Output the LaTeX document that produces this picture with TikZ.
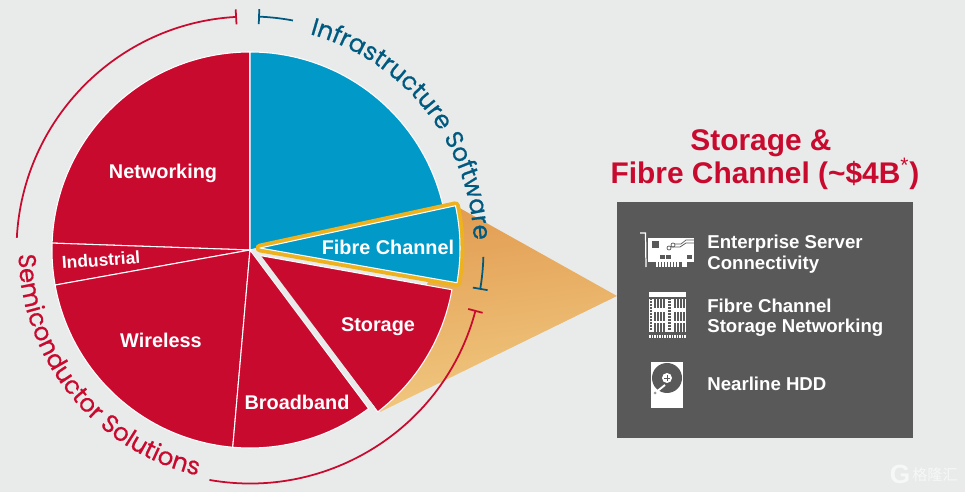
\documentclass[tikz,border=0pt]{standalone}
\usepackage{fontspec}
\setmainfont{Liberation Sans}
\newfontfamily\arcfont[FakeBold=0.5]{Poppins}
\newfontfamily\cjkfont{Noto Sans CJK SC}
\usepackage{tikz}
\usetikzlibrary{arrows.meta,decorations.text}

\definecolor{bgcol}{HTML}{E9EBEB}
\definecolor{piered}{HTML}{C90A2F}
\definecolor{pieblue}{HTML}{0099C8}
\definecolor{arcblue}{HTML}{005A80}
\definecolor{rimyellow}{HTML}{EDB21E}
\definecolor{boxgray}{HTML}{595959}
\definecolor{calltop}{HTML}{E29D52}
\definecolor{callbot}{HTML}{F1CA82}
\definecolor{markcol}{HTML}{F6F7F7}

\tikzset{
	slice/.style={fill=#1,draw=white,line width=0.6pt,line join=round},
	pielabel/.style={text=white,font=\bfseries\fontsize{11.3}{13}\selectfont,inner sep=0pt},
	boxlabel/.style={text=white,font=\bfseries\fontsize{10.6}{11.6}\selectfont,anchor=west,align=left,inner sep=0pt},
	titlelabel/.style={text=piered,font=\bfseries\fontsize{17}{20}\selectfont,inner sep=0pt},
	redarc/.style={draw=piered,line width=1pt,-{Bar[width=8.5pt,line width=1pt]}},
	bluearc/.style={draw=arcblue,line width=1pt,-{Bar[width=8.5pt,line width=1pt]}}
}
\def\pieR{3.96}
\def\arcR{4.67}

\begin{document}
\begin{tikzpicture}
\useasboundingbox (0,0) rectangle (19.3,9.84);
\fill[bgcol] (0,0) rectangle (19.3,9.84);
% callout behind the pie
\shade[top color=calltop,bottom color=callbot,shading angle=8] (9.12,5.72) -- (12.34,3.92) -- (7.6,1.6) -- cycle;
\begin{scope}[shift={(5,4.84)}]
	\foreach \a/\b in {90/178,178/190.2,190.2/265,265/306.8}
	{
		\draw[slice=piered] (0,0) -- (\a:\pieR) arc (\a:\b:\pieR) -- cycle;
	}
	\draw[slice=pieblue] (0,0) -- (90:\pieR) arc (90:12.8:\pieR) -- cycle;
	\draw[slice=piered,shift={(0.14,-0.1)}] (0,0) -- (-10.1:\pieR) arc (-10.1:-52.4:\pieR) -- cycle;
	% gap between the two red slices
	\draw[bgcol,line width=2.9pt] (0.07,0) -- (2.46,-3.18);
	% highlighted slice
	\draw[rimyellow,line width=5pt,line join=round,shift={(0.2,0.04)}] (0,0) -- (12.2:4) arc (12.2:-10:4) -- cycle;
	\draw[slice=pieblue,shift={(0.2,0.04)}] (0,0) -- (12.2:4) arc (12.2:-10:4) -- cycle;
	% brackets round the pie
	\draw[redarc] (177:\arcR) arc (177:93.2:\arcR);
	\draw[redarc] (260:\arcR) arc (260:345.1:\arcR);
	\draw[bluearc] (79.4:\arcR) arc (79.4:88:\arcR);
	\draw[bluearc] (-1.7:\arcR) arc (-1.7:-9.8:\arcR);
	% curved titles
	\path[decorate,decoration={text along path,text align=center,
		text={|\arcfont\fontsize{14}{15}\selectfont\color{arcblue}|Infrastructure Software}}]
		(76:4.48) arc (76:1:4.48);
	\path[decorate,decoration={text along path,text align=center,
		text={|\arcfont\fontsize{14}{15}\selectfont\color{piered}|Semiconductor Solutions}}]
		(179:4.63) arc (179:259:4.63);
\end{scope}
\node[pielabel] (networking) at (3.26,6.38) {Networking};
\node[pielabel,font=\bfseries\fontsize{9.9}{11}\selectfont,rotate=4] (industrial) at (2.02,4.64) {Industrial};
\node[pielabel] (wireless) at (3.22,3.04) {Wireless};
\node[pielabel] (broadband) at (5.94,1.8) {Broadband};
\node[pielabel] (storage) at (7.56,3.3) {Storage};
\node[pielabel] (fibre) at (7.76,4.9) {Fibre Channel};
\node[titlelabel] (title1) at (15.22,6.98) {Storage \&};
\node[titlelabel] (title2) at (15.3,6.36) {Fibre Channel (\textasciitilde\$4B\textsuperscript{\mdseries *})};
% grey box
\fill[boxgray] (12.34,5.8) rectangle (18.26,1.08);
\node[boxlabel] (server) at (14.14,4.76) {Enterprise Server\\Connectivity};
\node[boxlabel] (network) at (14.14,3.49) {Fibre Channel\\Storage Networking};
\node[boxlabel] (hdd) at (14.14,2.16) {Nearline HDD};
% card icon
\draw[white,line width=0.7pt] (12.8,5.18) -- (12.91,5.18) -- (12.92,4.5);
\fill[white] (12.96,5.08) rectangle (13.88,4.6);
\foreach \x in {13.12,13.18,...,13.58}
{
	\fill[white] (\x,4.6) rectangle (\x+0.035,4.5);
}
\fill[white] (13.64,4.6) rectangle (13.74,4.5);
\fill[boxgray] (13.04,5.02) rectangle (13.18,4.88);
\fill[boxgray] (13.2,4.74) rectangle (13.3,4.66);
\fill[boxgray] (13.32,4.74) rectangle (13.42,4.66);
\fill[boxgray] (13.74,4.74) rectangle (13.84,4.66);
\draw[boxgray,line width=0.4pt] (13.38,4.88) circle (0.04);
\draw[boxgray,line width=0.4pt] (13.46,4.94) circle (0.04);
\draw[boxgray,line width=0.4pt] (13.5,4.96) -- (13.62,4.96) -- (13.72,5.04) -- (13.88,5.04);
\draw[boxgray,line width=0.4pt] (13.42,4.9) -- (13.6,4.9) -- (13.72,4.98) -- (13.88,4.98);
% switch icon
\fill[white] (12.98,4) rectangle (13.72,3.9);
\fill[white] (12.98,3.86) rectangle (13.72,3.2);
\foreach \y in {3.86,3.6,3.38}
{
	\foreach \x in {13.08,13.14,13.2,13.26,13.48,13.54,13.6,13.66}
	{
		\fill[boxgray] (\x,\y) rectangle (\x+0.03,\y-0.19);
	}
}
\foreach \y in {3.24,3.3,...,3.84}
{
	\fill[boxgray] (13.0,\y) rectangle (13.04,\y+0.03);
	\fill[boxgray] (13.36,\y) rectangle (13.42,\y+0.03);
}
\foreach \x in {12.98,13.03,...,13.7}
{
	\fill[white] (\x,3.14) rectangle (\x+0.03,3.08);
}
% disk icon
\fill[white] (13.02,2.6) rectangle (13.66,1.68);
\fill[boxgray] (13.34,2.28) circle (0.3);
\fill[white] (13.34,2.28) circle (0.1);
\draw[boxgray,line width=0.3pt] (13.28,2.28) -- (13.4,2.28) (13.34,2.22) -- (13.34,2.34);
\draw[white,line width=1.1pt] (13.1,1.98) -- (13.3,2.14);
\fill[white] (13.1,1.98) circle (0.08);
\fill[boxgray!60] (13.1,1.98) circle (0.03);
% corner mark
\node[text=markcol,font=\bfseries\fontsize{15}{16}\selectfont,inner sep=0pt] (markg) at (18,0.36) {G};
\node[text=markcol,font=\cjkfont\fontsize{8.6}{9}\selectfont,inner sep=0pt] (markname) at (18.7,0.34) {格隆汇};
\end{tikzpicture}
\end{document}
